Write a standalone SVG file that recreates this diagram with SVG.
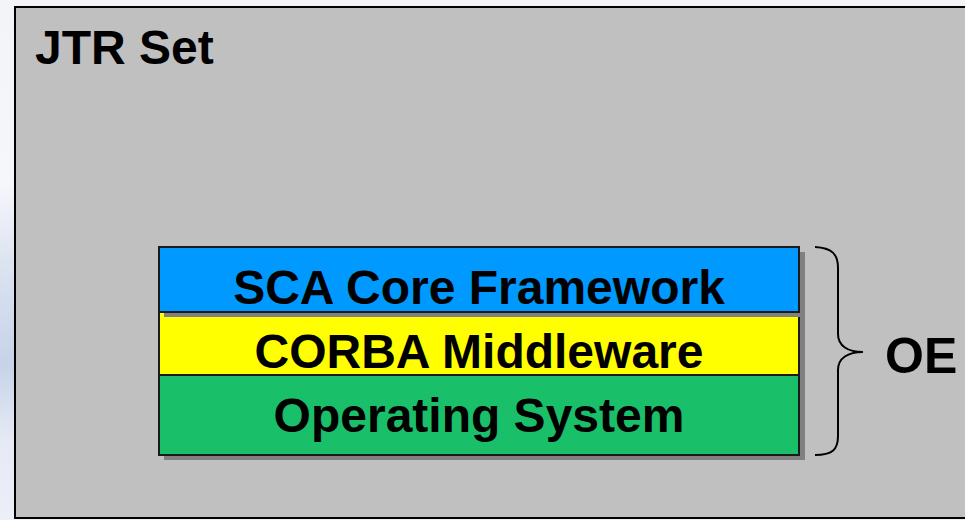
<svg xmlns="http://www.w3.org/2000/svg" width="965" height="520" viewBox="0 0 965 520">
<defs>
<linearGradient id="bgGrad" x1="0" y1="0" x2="0" y2="1">
<stop offset="0" stop-color="#f2f4fa"/>
<stop offset="0.35" stop-color="#f6f7fc"/>
<stop offset="0.5" stop-color="#dde4f1"/>
<stop offset="0.7" stop-color="#c6d3e8"/>
<stop offset="0.85" stop-color="#e6eaf6"/>
<stop offset="1" stop-color="#eceff8"/>
</linearGradient>
<style>
.layer{stroke:#1a1a1a;stroke-width:2}
.shadow{fill:#808080}
.lbl{font-family:"Liberation Sans",Arial,sans-serif;font-weight:bold;font-size:48px;fill:#000;text-anchor:middle}
</style>
</defs>
<rect x="0" y="0" width="965" height="520" fill="url(#bgGrad)"/>
<g id="jtr-set">
<rect x="15" y="7" width="960" height="511" fill="#c0c0c0" stroke="#000" stroke-width="2"/>
<text x="35" y="64" class="lbl" style="text-anchor:start">JTR Set</text>
</g>
<g id="corba">
<rect class="shadow" x="164" y="317" width="641" height="63"/>
<rect class="layer" x="159" y="312" width="640" height="63" fill="#ffff00"/>
<text x="479" y="368" class="lbl">CORBA Middleware</text>
</g>
<g id="os">
<rect class="shadow" x="164" y="380" width="641" height="80"/>
<rect class="layer" x="159" y="375" width="640" height="80" fill="#1abf6a"/>
<text x="479" y="432" class="lbl">Operating System</text>
</g>
<g id="sca">
<rect class="shadow" x="164" y="252" width="641" height="65"/>
<rect class="layer" x="159" y="247" width="640" height="65" fill="#0099ff"/>
<text x="479" y="304" class="lbl">SCA Core Framework</text>
</g>
<g id="connectors">
<path d="M815,247 C832,248 838,254 838,268 L838,334 C838,346 848,352 863,352 C848,352 838,358 838,370 L838,436 C838,450 832,455 815,455" fill="none" stroke="#000" stroke-width="2"/>
</g>
<g id="oe">
<text x="885" y="373" class="lbl" style="text-anchor:start;font-size:50px">OE</text>
</g>
</svg>
